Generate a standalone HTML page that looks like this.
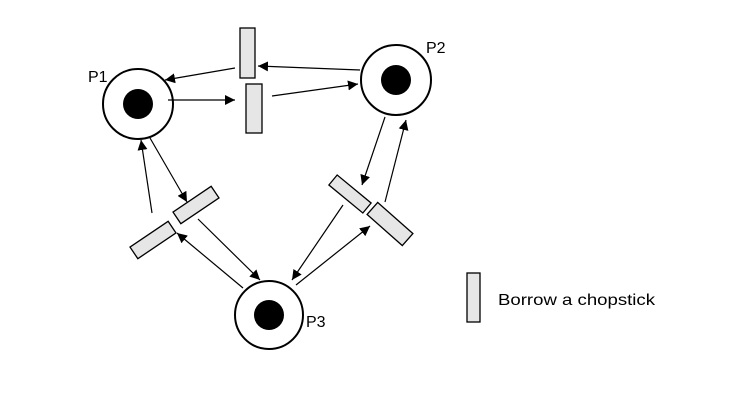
<!DOCTYPE html>
<html><head><meta charset="utf-8"><style>html,body{margin:0;padding:0;background:#fff;}svg{display:block}</style></head>
<body>
<svg width="751" height="405" viewBox="0 0 751 405" xmlns="http://www.w3.org/2000/svg">
<defs>
<marker id="a" viewBox="0 0 10 10" refX="10" refY="5" markerWidth="10" markerHeight="10" markerUnits="userSpaceOnUse" orient="auto"><path d="M0,0 L10,5 L0,10 z" fill="#000"/></marker>
</defs>
<g stroke="#000" stroke-width="2" fill="#fff">
<circle cx="138" cy="104" r="35"/>
<circle cx="396" cy="80" r="35"/>
<circle cx="269" cy="315" r="34"/>
</g>
<g fill="#000">
<circle cx="138" cy="104" r="15"/>
<circle cx="396" cy="80" r="15"/>
<circle cx="269" cy="315" r="15"/>
</g>
<g fill="#e6e6e6" stroke="#000" stroke-width="1.3">
<rect x="240" y="28" width="15" height="50"/>
<rect x="246" y="84" width="16" height="49"/>
<rect x="-23" y="-7" width="46" height="14" transform="translate(196,205) rotate(-34)"/>
<rect x="-23" y="-7" width="46" height="14" transform="translate(153,240) rotate(-34)"/>
<rect x="-22" y="-6.5" width="44" height="13" transform="translate(350,194) rotate(39.5)"/>
<rect x="-23.5" y="-8" width="47" height="16" transform="translate(390,224) rotate(41.5)"/>
<rect x="467" y="273" width="13" height="49"/>
</g>
<g stroke="#000" stroke-width="1.2" fill="none" marker-end="url(#a)">
<line x1="235" y1="68" x2="165" y2="80"/>
<line x1="360" y1="70" x2="258" y2="66"/>
<line x1="168" y1="100" x2="235" y2="100"/>
<line x1="272" y1="96" x2="358" y2="84"/>
<line x1="152" y1="213" x2="141" y2="140"/>
<line x1="150" y1="138" x2="187" y2="202"/>
<line x1="198" y1="219" x2="260" y2="280"/>
<line x1="243" y1="288" x2="177" y2="233"/>
<line x1="385" y1="117" x2="362" y2="185"/>
<line x1="385" y1="202" x2="406" y2="120"/>
<line x1="343" y1="205" x2="292" y2="280"/>
<line x1="296" y1="285" x2="370" y2="226"/>
</g>
<g font-family="Liberation Sans, sans-serif" font-size="16" fill="#000">
<text x="88" y="82">P1</text>
<text x="426" y="53">P2</text>
<text x="306" y="327">P3</text>
<text x="498" y="305" textLength="157" lengthAdjust="spacingAndGlyphs">Borrow a chopstick</text>
</g>
</svg>
</body></html>
